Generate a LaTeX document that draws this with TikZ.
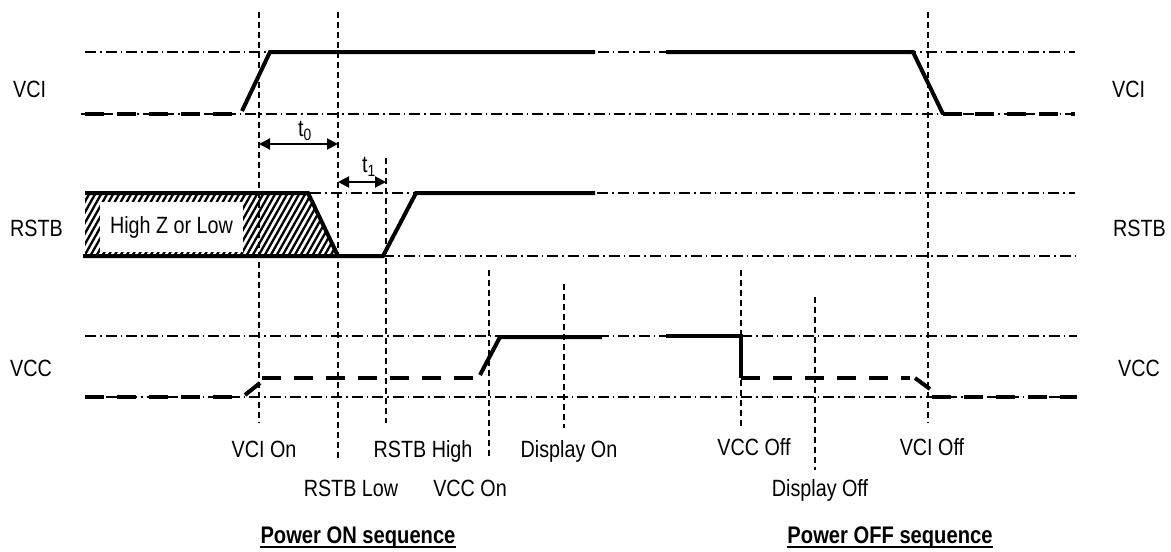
\documentclass[tikz,border=0pt]{standalone}
\usepackage{fontspec}
\setmainfont{Liberation Sans}[FakeStretch=0.84]
\usetikzlibrary{arrows.meta}
\begin{document}
\begin{tikzpicture}[x=1pt,y=-1pt,
  guide/.style={line width=1.2pt, dash pattern=on 11pt off 4pt on 1.5pt off 4pt},
  vdash/.style={line width=1.4pt, dash pattern=on 6pt off 4pt},
  sig/.style={line width=4pt, line join=miter},
  sigdash/.style={line width=4pt, dash pattern=on 19pt off 13pt},
  hatchline/.style={line width=2.3pt},
  lab/.style={font=\fontsize{23.5}{28}\selectfont, inner sep=0pt},
  ttl/.style={font=\fontsize{24}{28}\selectfont\bfseries, inner sep=0pt, anchor=base},
  ev/.style={lab, anchor=base},
  dimarrow/.style={line width=2pt, {Triangle[length=11pt,width=11pt]}-{Triangle[length=11pt,width=11pt]}}
]
\useasboundingbox (0,0) rectangle (1171,552);

% vertical event markers
\draw[vdash] (259,12) -- (259,423);
\draw[vdash] (338,12) -- (338,458);
\draw[vdash] (386,158) -- (386,423);
\draw[vdash] (489,270) -- (489,458);
\draw[vdash] (564,284) -- (564,428);
\draw[vdash] (741,270) -- (741,427);
\draw[vdash] (815,297) -- (815,470);
\draw[vdash] (928,12) -- (928,423);

% level guides
\draw[guide] (85,52) -- (1075,52);
\draw[guide] (81,114) -- (1075,114);
\draw[guide] (310,193) -- (1075,193);
\draw[guide] (383,256) -- (1075,256);
\draw[guide] (85,336) -- (1077,336);
\draw[guide] (85,397) -- (1077,397);

% VCI
\draw[sigdash] (85,114) -- (232,114);
\draw[sig] (242,111) -- (270,52) -- (595,52);
\draw[sig] (666,52) -- (913,52) -- (943,114);
\draw[sigdash] (943,114) -- (1075,114);

% RSTB hatched region
\begin{scope}
  \clip (85,193) -- (308,193) -- (338,256) -- (85,256) -- cycle;
  \foreach \x in {40,46,...,346} \draw[hatchline] (\x,260) -- (\x+40,189);
\end{scope}
\node[lab, fill=white, minimum width=143pt, minimum height=50pt] (hz) at (171.5,227) {High Z or Low};
\draw[sig] (85,193) -- (308,193) -- (338,256);
\draw[sig] (83,256) -- (383,256) -- (416,193) -- (595,193);

% VCC
\draw[sigdash] (85,397) -- (232,397);
\draw[sig] (245,395) -- (260,383);
\draw[sigdash] (262,378) -- (478,378);
\draw[sig] (480,375) -- (500,337) -- (602,337);
\draw[sig] (666,336) -- (741,336) -- (741,378);
\draw[sigdash] (741,378) -- (910,378);
\draw[sig] (915,378) -- (930,389);
\draw[sigdash] (932,397) -- (1077,397);

% timing arrows
\coordinate (t0a) at (259,144);
\coordinate (t0b) at (338,144);
\coordinate (t1a) at (338,182);
\coordinate (t1b) at (386,182);
\draw[dimarrow] (t0a) -- (t0b);
\draw[dimarrow] (t1a) -- (t1b);
\node[lab] (t0) at (305,131) {t\textsubscript{0}};
\node[lab] (t1) at (369,167) {t\textsubscript{1}};

% side labels
\node[lab, anchor=west] (lvci) at (13,89) {VCI};
\node[lab, anchor=west] (lrstb) at (10,228) {RSTB};
\node[lab, anchor=west] (lvcc) at (10,368) {VCC};
\node[lab, anchor=west] (rvci) at (1112,89) {VCI};
\node[lab, anchor=west] (rrstb) at (1113,228) {RSTB};
\node[lab, anchor=west] (rvcc) at (1118,368) {VCC};

% event labels
\node[ev] (e1) at (264,457) {VCI On};
\node[ev] (e2) at (351,496) {RSTB Low};
\node[ev] (e3) at (423,457) {RSTB High};
\node[ev] (e4) at (470,496) {VCC On};
\node[ev] (e5) at (569,457) {Display On};
\node[ev] (e6) at (754,455) {VCC Off};
\node[ev] (e7) at (932,455) {VCI Off};
\node[ev] (e8) at (820,496) {Display Off};

% titles
\coordinate (ul) at (0,547);
\node[ttl] (ton) at (358,543) {Power ON sequence};
\node[ttl] (toff) at (890,543) {Power OFF sequence};
\draw[line width=1.6pt] (ton.west |- ul) -- (ton.east |- ul);
\draw[line width=1.6pt] (toff.west |- ul) -- (toff.east |- ul);
\end{tikzpicture}
\end{document}
